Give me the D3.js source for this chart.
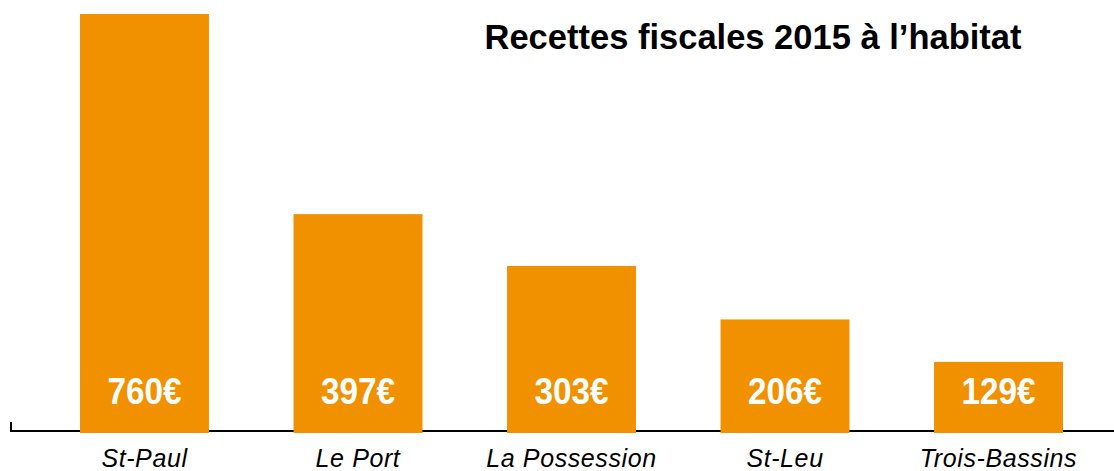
<!DOCTYPE html>
<html>
<head>
<meta charset="utf-8">
<script src="https://cdn.jsdelivr.net/npm/d3@7"></script>
<style>
  body { margin: 0; background: #fff; }
  svg { display: block; }
</style>
</head>
<body>
<div id="chart"></div>
<script>
// Communes and fiscal revenue per dwelling (euros)
const communes = ["St-Paul", "Le Port", "La Possession", "St-Leu", "Trois-Bassins"];
const recettes = [760, 397, 303, 206, 129];
const title = "Recettes fiscales 2015 à l\u2019habitat";

const width = 1114, height = 471;
const baseY = 433;

const svg = d3.select("#chart").append("svg")
  .attr("width", width)
  .attr("height", height);

// Band scale for the bars
const x = d3.scaleBand()
  .domain(communes)
  .range([80, 1063])
  .paddingInner(0.396)
  .paddingOuter(0);

// Linear scale, zero at the baseline
const y = d3.scaleLinear()
  .domain([0, 760])
  .range([baseY, 14]);

// Axis line with small tick at the left end
svg.append("path")
  .attr("d", `M11,422 V${baseY - 2} H${width}`)
  .attr("fill", "none")
  .attr("stroke", "#000")
  .attr("stroke-width", 2);

// Bars
svg.selectAll("rect.bar")
  .data(recettes)
  .enter().append("rect")
  .attr("class", "bar")
  .attr("x", (d, i) => x(communes[i]))
  .attr("y", d => y(d))
  .attr("width", x.bandwidth())
  .attr("height", d => baseY - y(d))
  .attr("fill", "#F29100");

// Value labels inside the bars (condensed look via horizontal squeeze)
svg.selectAll("text.val")
  .data(recettes)
  .enter().append("text")
  .attr("class", "val")
  .attr("transform", (d, i) => `translate(${x(communes[i]) + x.bandwidth() / 2},404) scale(0.9,1)`)
  .attr("text-anchor", "middle")
  .attr("fill", "#fff")
  .style("font-family", "'Liberation Sans Narrow', 'Liberation Sans', Arial, sans-serif")
  .style("font-weight", "bold")
  .style("font-size", "37px")
  .text(d => d + "€");

// Category labels
svg.selectAll("text.cat")
  .data(communes)
  .enter().append("text")
  .attr("class", "cat")
  .attr("x", d => x(d) + x.bandwidth() / 2)
  .attr("y", 467)
  .attr("text-anchor", "middle")
  .attr("fill", "#000")
  .style("font-family", "'Liberation Sans', Arial, sans-serif")
  .style("font-style", "italic")
  .style("font-size", "25px")
  .style("letter-spacing", "0.6px")
  .text(d => d);

// Title
svg.append("text")
  .attr("x", 753)
  .attr("y", 49)
  .attr("text-anchor", "middle")
  .style("font-family", "'Liberation Sans', Arial, sans-serif")
  .style("font-weight", "bold")
  .style("font-size", "34.5px")
  .text(title);
</script>
</body>
</html>
